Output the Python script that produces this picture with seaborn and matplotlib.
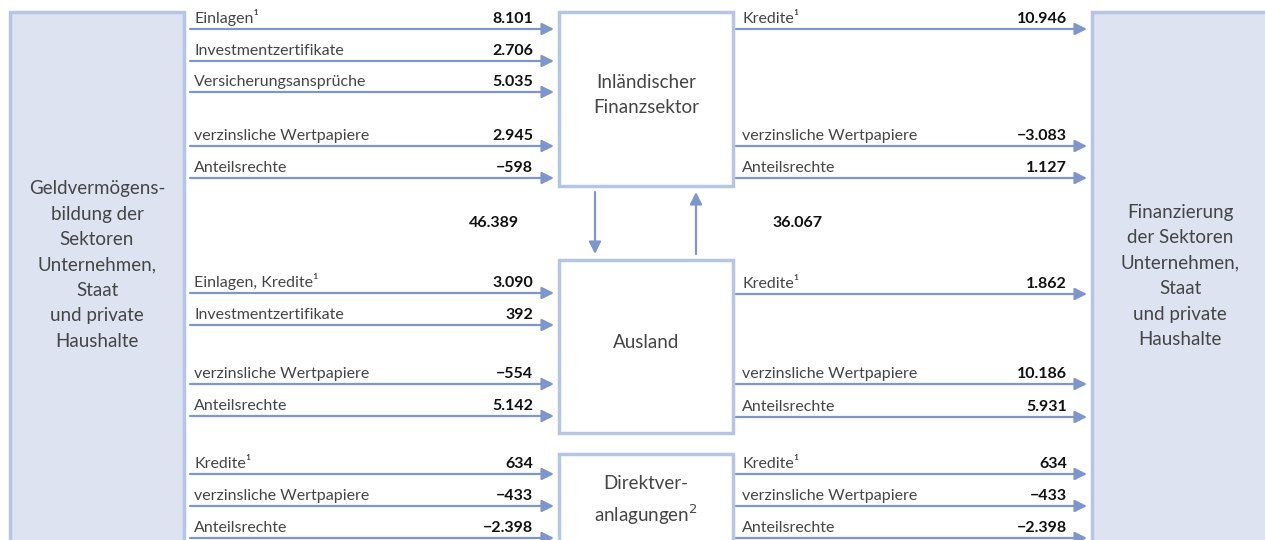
import matplotlib
matplotlib.use("Agg")
import matplotlib.pyplot as plt
from matplotlib.patches import Rectangle
import seaborn as sns

# ==============================
# Data (Mio EUR)
# ==============================
fin_in_labels = ["Einlagen¹", "Investmentzertifikate", "Versicherungsansprüche",
                 "verzinsliche Wertpapiere", "Anteilsrechte"]
fin_in_values = [8101, 2706, 5035, 2945, -598]
fin_out_labels = ["Kredite¹", "verzinsliche Wertpapiere", "Anteilsrechte"]
fin_out_values = [10946, -3083, 1127]

aus_in_labels = ["Einlagen, Kredite¹", "Investmentzertifikate",
                 "verzinsliche Wertpapiere", "Anteilsrechte"]
aus_in_values = [3090, 392, -554, 5142]
aus_out_labels = ["Kredite¹", "verzinsliche Wertpapiere", "Anteilsrechte"]
aus_out_values = [1862, 10186, 5931]

dir_in_labels = ["Kredite¹", "verzinsliche Wertpapiere", "Anteilsrechte"]
dir_in_values = [634, -433, -2398]
dir_out_labels = ["Kredite¹", "verzinsliche Wertpapiere", "Anteilsrechte"]
dir_out_values = [634, -433, -2398]

flow_to_ausland = 46389
flow_from_ausland = 36067

left_title = "Geldvermögens-\nbildung der\nSektoren\nUnternehmen,\nStaat\nund private\nHaushalte"
right_title = "Finanzierung\nder Sektoren\nUnternehmen,\nStaat\nund private\nHaushalte"
box_titles = ["Inländischer\nFinanzsektor", "Ausland", "Direktver-\nanlagungen$^2$"]

# ==============================
# Layout / style
# ==============================
sns.set_theme(style="white")
plt.rcParams["font.family"] = ["Lato", "DejaVu Sans"]

ARROW = "#7f96cd"
EDGE = "#b6c4e5"
FILL = "#dde3f1"
TXT = "#454545"

fin_in_rows = [29, 61, 92, 146, 178]
fin_out_rows = [29, 146, 178]
aus_in_rows = [293, 325, 384, 416]
aus_out_rows = [294, 384, 417]
dir_rows = [474, 506, 538]


def fmt(v):
    s = f"{abs(v):,}".replace(",", ".")
    return ("−" + s) if v < 0 else s


fig = plt.figure(figsize=(12.65, 5.4), dpi=100)
ax = fig.add_axes([0, 0, 1, 1])
ax.set_xlim(0, 1265)
ax.set_ylim(540, 0)
ax.axis("off")

# sector boxes
ax.add_patch(Rectangle((10, 12), 174, 540, facecolor=FILL, edgecolor=EDGE, lw=2.5))
ax.add_patch(Rectangle((1092, 12), 190, 540, facecolor=FILL, edgecolor=EDGE, lw=2.5))
ax.text(97, 265, left_title, ha="center", va="center", fontsize=13.5,
        color=TXT, linespacing=1.6)
ax.text(1180, 276, right_title, ha="center", va="center", fontsize=13.5,
        color=TXT, linespacing=1.6)

# centre boxes
centre_boxes = [(12, 186), (260, 433), (454, 560)]
centre_text_y = [95, 343, 501]
for (top, bot), title, ty in zip(centre_boxes, box_titles, centre_text_y):
    ax.add_patch(Rectangle((559, top), 174, bot - top, facecolor="white",
                           edgecolor=EDGE, lw=2.5))
    ax.text(646, ty, title, ha="center", va="center", fontsize=13.5,
            color=TXT, linespacing=1.55)


def flow(labels, values, rows, x0, x1, xlab, xval):
    for lab, val, y in zip(labels, values, rows):
        ax.annotate("", xy=(x1, y), xytext=(x0, y),
                    arrowprops=dict(arrowstyle="-|>", color=ARROW, lw=1.6,
                                    mutation_scale=18, shrinkA=0, shrinkB=0))
        ax.text(xlab, y - 3, lab, ha="left", va="bottom", fontsize=11.5,
                color=TXT)
        ax.text(xval, y - 3, fmt(val), ha="right", va="bottom", fontsize=11.5,
                color="#111111", fontweight="bold")


flow(fin_in_labels, fin_in_values, fin_in_rows, 190, 554, 194, 533)
flow(aus_in_labels, aus_in_values, aus_in_rows, 190, 554, 194, 533)
flow(dir_in_labels, dir_in_values, dir_rows, 190, 554, 194, 533)
flow(fin_out_labels, fin_out_values, fin_out_rows, 736, 1087, 742, 1067)
flow(aus_out_labels, aus_out_values, aus_out_rows, 736, 1087, 742, 1067)
flow(dir_out_labels, dir_out_values, dir_rows, 736, 1087, 742, 1067)

# flows between domestic financial sector and abroad
ax.annotate("", xy=(595, 254), xytext=(595, 192),
            arrowprops=dict(arrowstyle="-|>", color=ARROW, lw=1.6,
                            mutation_scale=18, shrinkA=0, shrinkB=0))
ax.annotate("", xy=(696, 192), xytext=(696, 254),
            arrowprops=dict(arrowstyle="-|>", color=ARROW, lw=1.6,
                            mutation_scale=18, shrinkA=0, shrinkB=0))
ax.text(494, 223, fmt(flow_to_ausland), ha="center", va="center",
        fontsize=11.5, color="#111111", fontweight="bold")
ax.text(797, 223, fmt(flow_from_ausland), ha="center", va="center",
        fontsize=11.5, color="#111111", fontweight="bold")

fig.savefig("out.png", dpi=100)
